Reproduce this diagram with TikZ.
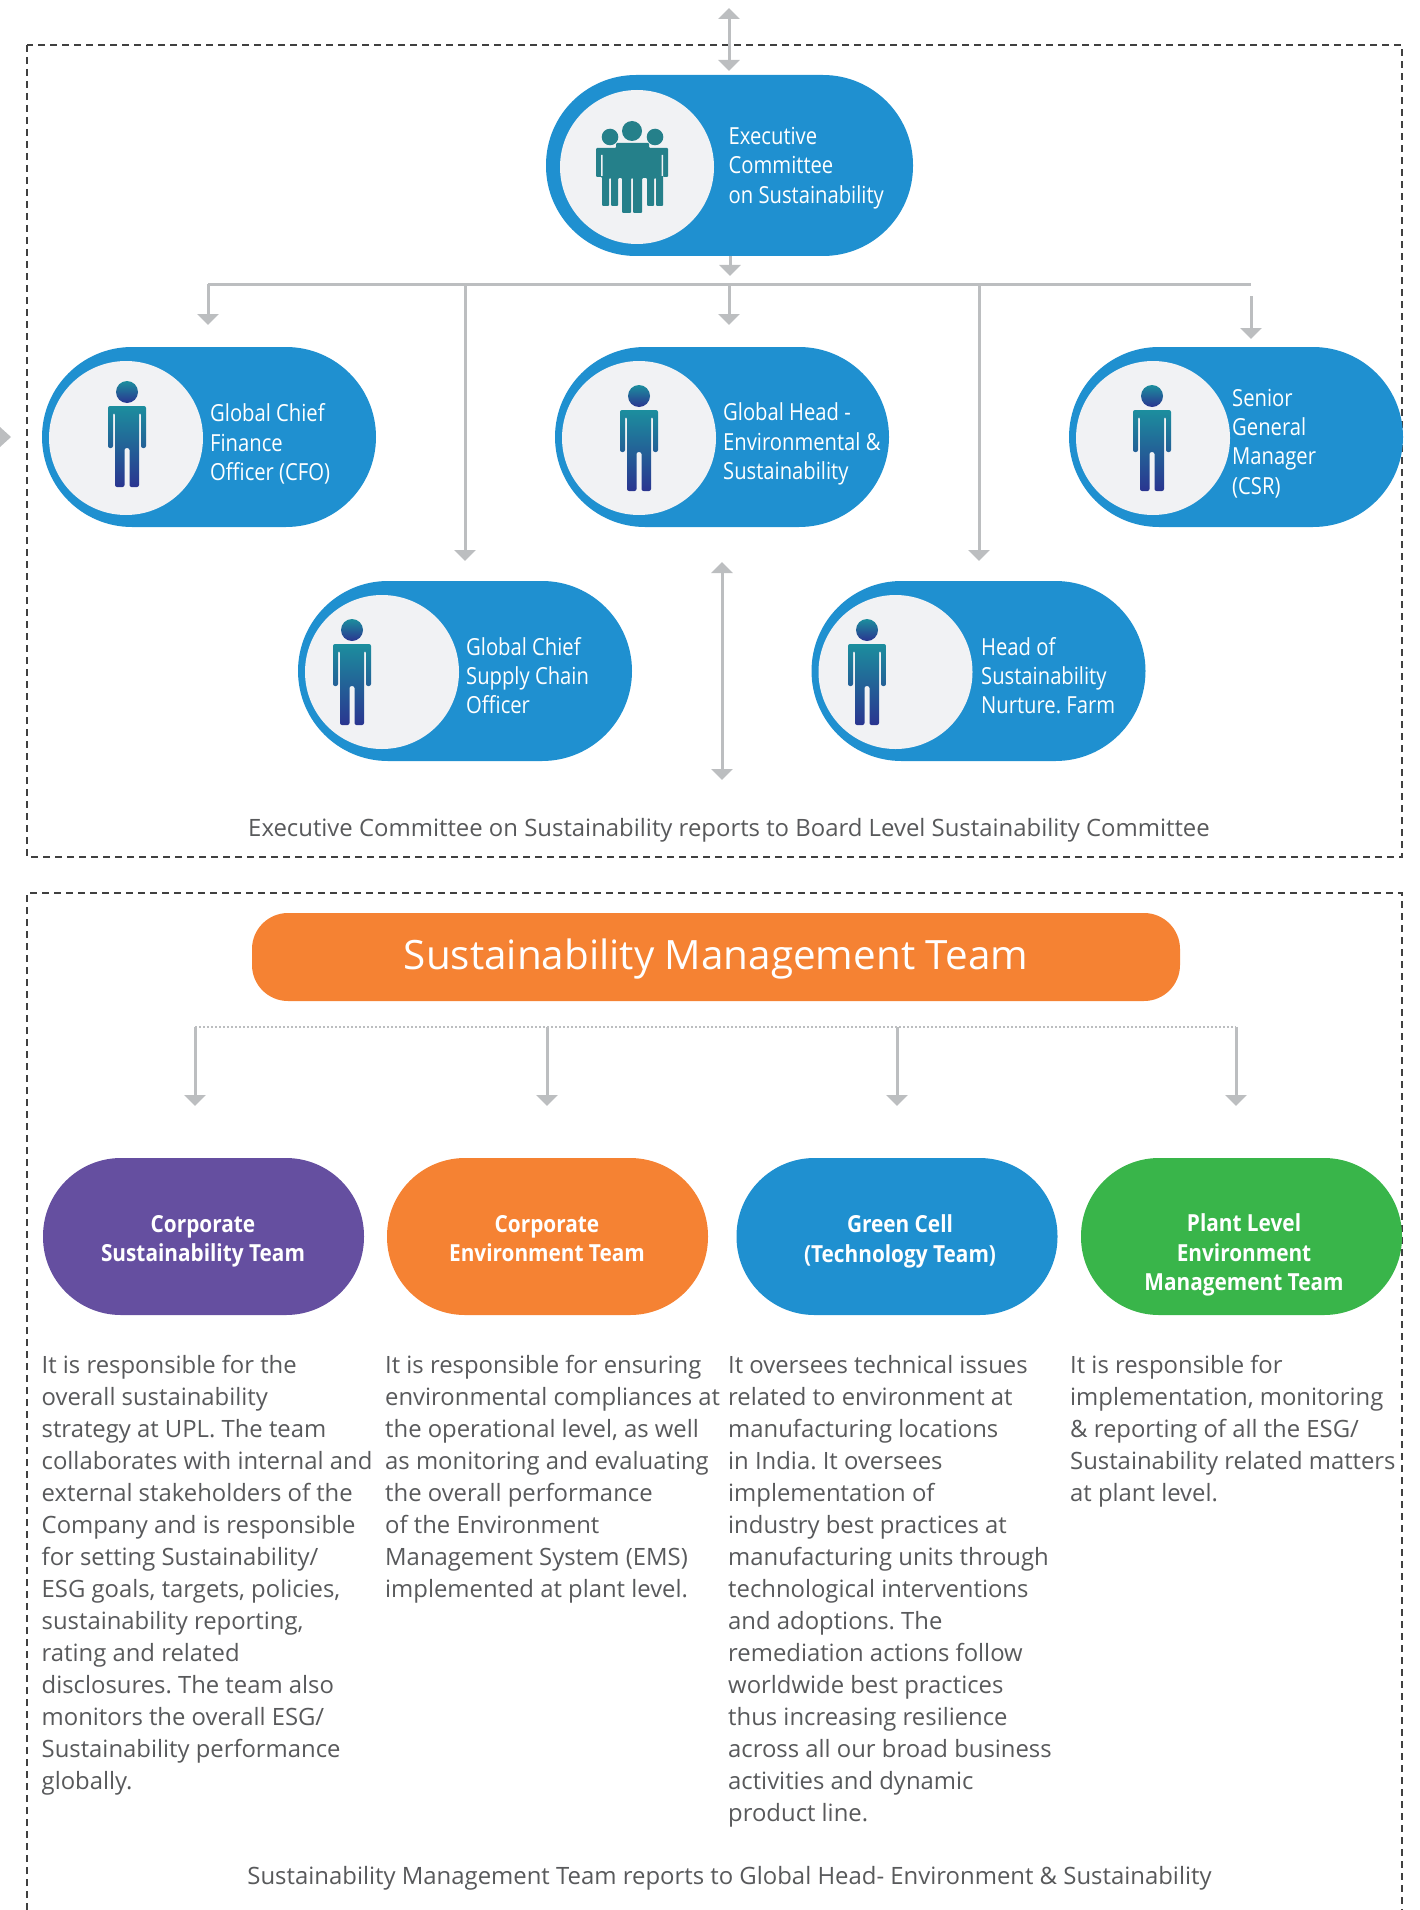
\documentclass[tikz,border=0pt]{standalone}
\usepackage{fontspec}
\setmainfont{Open Sans}
\newfontfamily\condfont[FakeStretch=0.86]{Open Sans}
\newfontfamily\condbold[FakeStretch=0.885]{Open Sans}
\usetikzlibrary{arrows.meta}
\definecolor{pillblue}{HTML}{1F90D0}
\definecolor{discgray}{HTML}{F1F2F4}
\definecolor{linegray}{HTML}{BCBEC0}
\definecolor{bodygray}{HTML}{58595B}
\definecolor{groupteal}{HTML}{25808A}
\definecolor{teamorange}{HTML}{F58233}
\definecolor{teampurple}{HTML}{654FA0}
\definecolor{teamgreen}{HTML}{39B54A}
\definecolor{persontop}{HTML}{1C8E9E}
\definecolor{personmid}{HTML}{17689F}
\definecolor{personbot}{HTML}{2A3590}
\tikzset{
  pill/.style={rectangle,rounded corners=90pt,minimum width=334pt,minimum height=180pt,fill=pillblue,inner sep=0pt},
  disc/.style={circle,minimum size=154pt,fill=discgray,inner sep=0pt},
  pilltext/.style={anchor=west,align=left,inner sep=0pt,text=white,font=\condfont\fontsize{23.5}{29.3}\selectfont},
  teampill/.style={rectangle,rounded corners=78pt,minimum width=321pt,minimum height=157pt,inner sep=0pt},
  teamtext/.style={align=center,inner sep=0pt,text=white,font=\condbold\bfseries\fontsize{23.5}{29.3}\selectfont},
  bodytext/.style={anchor=north west,align=left,inner sep=0pt,text=bodygray,font=\fontsize{23.85}{32.04}\selectfont},
  caption/.style={inner sep=0pt,text=bodygray,font=\fontsize{23.9}{32}\selectfont},
  boxline/.style={draw=black!75,line width=1.3pt,dash pattern=on 7pt off 5pt},
  arrow/.style={draw=linegray,line width=3pt,-{Triangle[width=21pt,length=11pt]}},
  twoarrow/.style={draw=linegray,line width=3pt,{Triangle[width=21pt,length=11pt]}-{Triangle[width=21pt,length=11pt]}},
  bus/.style={draw=linegray,line width=3pt},
  person/.pic={
    \shade[top color=persontop,bottom color=personbot] (0,0) circle (11);
    \shade[top color=persontop,middle color=personmid,bottom color=personbot,rounded corners=2pt]
      (-19,14) -- (19,14) -- (19,56) -- (14,56) -- (14,21) -- (12,21) -- (12,95) -- (2.5,95) -- (2.5,56)
      -- (-2.5,56) -- (-2.5,95) -- (-12,95) -- (-12,21) -- (-14,21) -- (-14,56) -- (-19,56) -- cycle;
  }
}
\frenchspacing

\begin{document}
\begin{tikzpicture}[x=1pt,y=-1pt]
\useasboundingbox (0,0) rectangle (1420,1910);

% dashed boxes
\draw[boxline] (27,45) rectangle (1402,857);
\draw[boxline] (27,1910) -- (27,893) -- (1402,893) -- (1402,1910);

% top committee
\node[pill,minimum width=367pt,minimum height=181pt] (execpill) at (729.5,165.5) {};
\node[disc] (execdisc) at (637,167) {};
\node[pilltext] (exectext) at (728.5,168) {Executive\\Committee\\on Sustainability};
\fill[groupteal] (632,131) circle (10) (610,137) circle (8.3) (655,137) circle (8.3);
\fill[groupteal,rounded corners=1pt] (616,143) -- (649,143) -- (649,148) -- (668,148) -- (668,177) -- (663,177)
  -- (663,155) -- (663,206) -- (656,206) -- (656,178) -- (654,178) -- (654,206) -- (647,206) -- (647,178)
  -- (642,178) -- (642,213) -- (633,213) -- (633,178) -- (631,178) -- (631,213) -- (622,213) -- (622,178)
  -- (618,178) -- (618,206) -- (611,206) -- (611,178) -- (609,178) -- (609,206) -- (602,206) -- (602,177)
  -- (596,177) -- (596,148) -- (616,148) -- cycle;
\fill[discgray] (601,155) rectangle (602.5,176) (661.5,155) rectangle (663,176);

% people
\foreach \name/\cx/\cy/\hx/\hy/\tx/\ty/\label in {
  cfo/209/437/127/392/210/444/{Global Chief\\Finance\\Officer (CFO)},
  ehs/722/437/639/396/723/444/{Global Head -\\Environmental \&\\Sustainability},
  csr/1236/437/1152/396/1232/443.5/{Senior\\General\\Manager\\(CSR)},
  supply/465/671/352/630/466/675.5/{Global Chief\\Supply Chain\\Officer},
  farm/978.5/671/867/630/981/675.5/{Head of\\Sustainability\\Nurture. Farm}}
{
  \node[pill] (\name pill) at (\cx,\cy) {};
  \node[disc] (\name disc) at ([xshift=-83pt,yshift=-1pt]\name pill.center) {};
  \node[pilltext] (\name text) at (\tx,\ty) {\label};
  \pic at (\hx,\hy) {person};
}

% arrows of the upper box
\coordinate (topin) at (729,8);
\coordinate (topout) at (729,71);
\coordinate (execout) at (730,256);
\coordinate (busin) at (730,276);
\coordinate (busleft) at (208,284);
\coordinate (busright) at (1251,284);
\coordinate (cfoin) at (208,325);
\coordinate (supplytop) at (465,284);
\coordinate (supplyin) at (465,561);
\coordinate (ehstop) at (729,284);
\coordinate (ehsin) at (729,325);
\coordinate (farmtop) at (979,284);
\coordinate (farmin) at (979,561);
\coordinate (csrtop) at (1251,296);
\coordinate (csrin) at (1251,339);
\coordinate (midtop) at (722,562);
\coordinate (midbot) at (722,780);
\draw[twoarrow] (topin) -- (topout);
\draw[arrow] (execout) -- (busin);
\draw[bus] (busleft) -- (busright);
\draw[arrow] (busleft) -- (cfoin);
\draw[arrow] (supplytop) -- (supplyin);
\draw[arrow] (ehstop) -- (ehsin);
\draw[arrow] (farmtop) -- (farmin);
\draw[arrow] (csrtop) -- (csrin);
\draw[twoarrow] (midtop) -- (midbot);
\fill[linegray] (0,427) -- (11,437) -- (0,447) -- cycle;

\node[caption] (uppercap) at (729,830) {Executive Committee on Sustainability reports to Board Level Sustainability Committee};

% management team
\node[rectangle,rounded corners=36pt,minimum width=928pt,minimum height=88pt,fill=teamorange,inner sep=0pt] (teamhead) at (716,957) {};
\node[inner sep=0pt,text=white,font=\fontsize{40.4}{48}\selectfont] (teamlabel) at (716,958.5) {Sustainability Management Team};
\coordinate (dotleft) at (195,1027);
\coordinate (dotright) at (1236,1027);
\draw[linegray,line width=2pt,dotted] (dotleft) -- (dotright);

\foreach \name/\ax/\cx/\tx/\ty/\fillcol/\label in {
  corp/195/203.5/203/1241.5/teampurple/{Corporate\\Sustainability Team},
  env/547/547.5/547/1238.5/teamorange/{Corporate\\Environment Team},
  green/897/897/900/1241.5/pillblue/{Green Cell\\(Technology Team)},
  plant/1236/1241.5/1244/1255/teamgreen/{Plant Level\\Environment\\Management Team}}
{
  \coordinate (\name top) at (\ax,1027);
  \coordinate (\name in) at (\ax,1106);
  \draw[arrow] (\name top) -- (\name in);
  \node[teampill,fill=\fillcol] (\name pill) at (\cx,1236.5) {};
  \node[teamtext] (\name text) at (\tx,\ty) {\label};
}

\node[bodytext] (corpbody) at (41.5,1355) {It is responsible for the\\overall sustainability\\strategy at UPL. The team\\collaborates with internal and\\external stakeholders of the\\Company and is responsible\\for setting Sustainability/\\ESG goals, targets, policies,\\sustainability reporting,\\rating and related\\disclosures. The team also\\monitors the overall ESG/\\Sustainability performance\\globally.};
\node[bodytext] (envbody) at (385,1355) {It is responsible for ensuring\\environmental compliances at\\the operational level, as well\\as monitoring and evaluating\\the overall performance\\of the Environment\\Management System (EMS)\\implemented at plant level.};
\node[bodytext] (greenbody) at (728,1355) {It oversees technical issues\\related to environment at\\manufacturing locations\\in India. It oversees\\implementation of\\industry best practices at\\manufacturing units through\\technological interventions\\and adoptions. The\\remediation actions follow\\worldwide best practices\\thus increasing resilience\\across all our broad business\\activities and dynamic\\product line.};
\node[bodytext] (plantbody) at (1070,1355) {It is responsible for\\implementation, monitoring\\\& reporting of all the ESG/\\Sustainability related matters\\at plant level.};

\node[caption] (lowercap) at (729.5,1878) {Sustainability Management Team reports to Global Head- Environment \& Sustainability};
\end{tikzpicture}
\end{document}
